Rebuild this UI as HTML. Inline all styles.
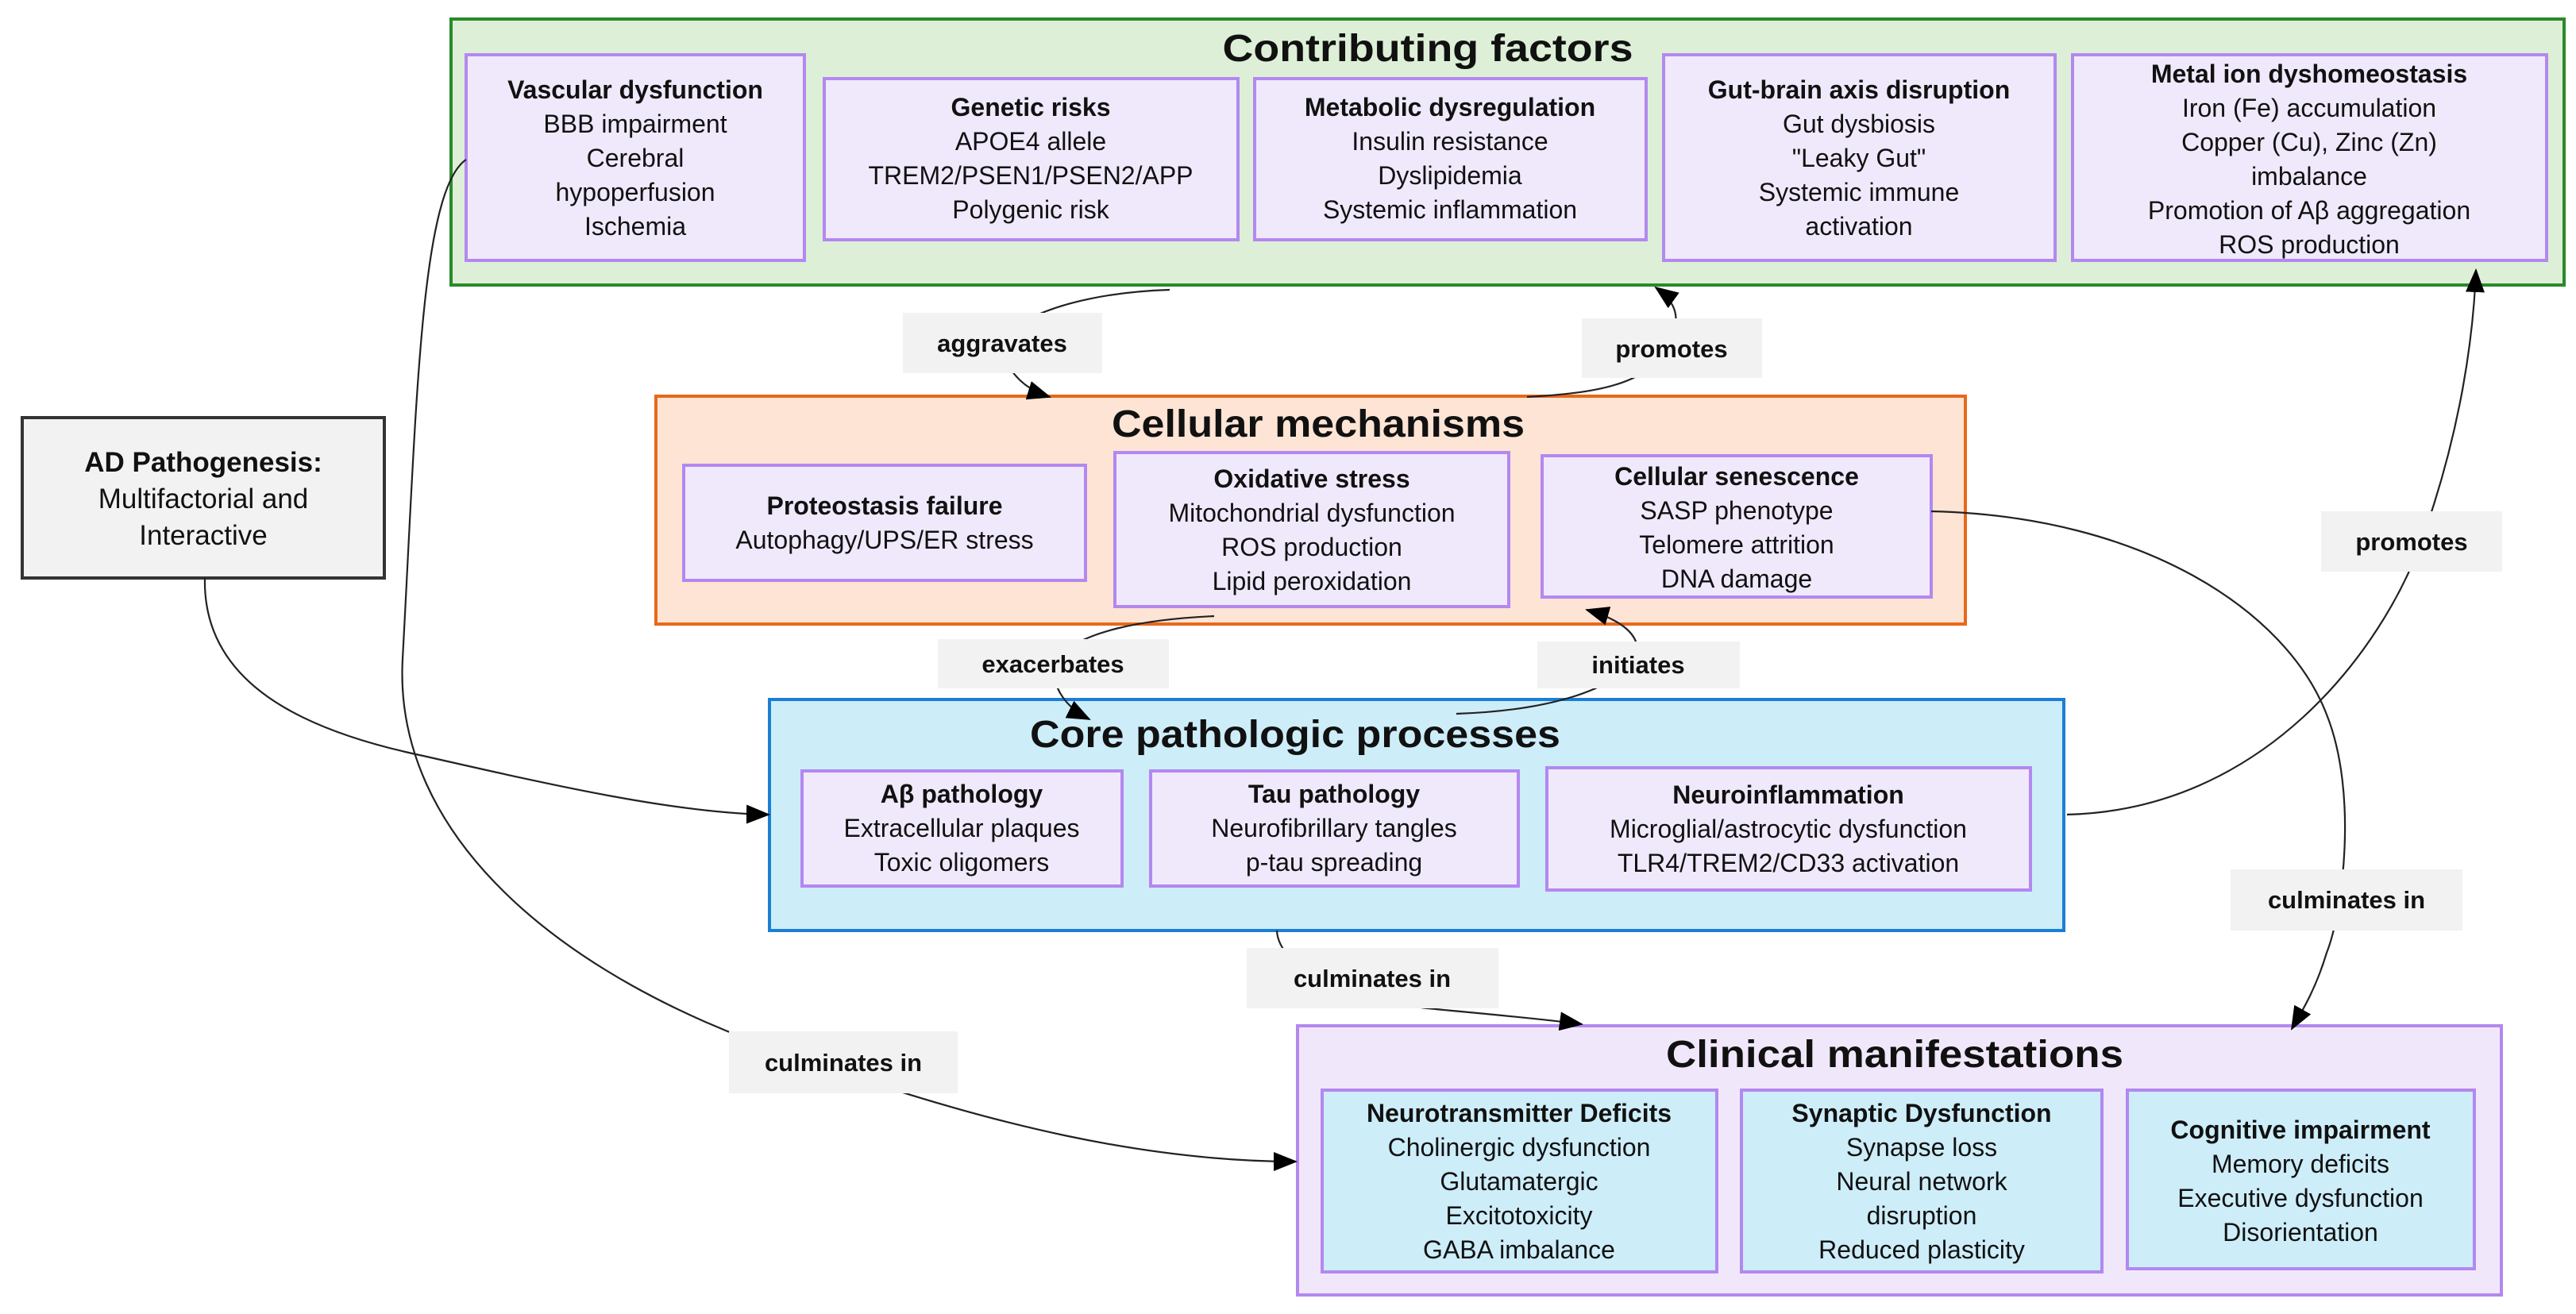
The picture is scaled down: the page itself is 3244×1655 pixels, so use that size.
<!DOCTYPE html>
<html><head><meta charset="utf-8"><style>
html,body{margin:0;padding:0;background:#fff;}
svg{display:block;font-family:"Liberation Sans",sans-serif;}
.b{font-weight:bold;}
text{font-size:32px;fill:#111;}
.t{font-size:48px;font-weight:bold;}
.l{font-size:31px;font-weight:bold;}
</style></head><body>
<svg width="3244" height="1655" viewBox="0 0 3244 1655" xmlns="http://www.w3.org/2000/svg">
<defs>
<marker id="a" markerUnits="userSpaceOnUse" markerWidth="30" markerHeight="24" refX="28" refY="12" orient="auto">
<path d="M0,0 L30,12 L0,24 z" fill="#000"/>
</marker>
</defs>
<rect width="3244" height="1655" fill="#fff"/>

<!-- Contributing factors -->
<rect x="568" y="24" width="2661" height="335" fill="#ddefd7" stroke="#2a8a2a" stroke-width="4"/>
<text class="t" x="1798" y="77" text-anchor="middle" textLength="517" lengthAdjust="spacingAndGlyphs">Contributing factors</text>
<g fill="#efe9fb" stroke="#b388f0" stroke-width="4">
<rect x="587" y="69" width="426" height="259"/>
<rect x="1038" y="99" width="521" height="203"/>
<rect x="1580" y="99" width="493" height="203"/>
<rect x="2095" y="69" width="493" height="259"/>
<rect x="2610" y="69" width="597" height="259"/>
</g>
<g text-anchor="middle">
<text x="800" y="124" class="b">Vascular dysfunction</text>
<text x="800" y="167">BBB impairment</text>
<text x="800" y="210">Cerebral</text>
<text x="800" y="253">hypoperfusion</text>
<text x="800" y="296">Ischemia</text>

<text x="1298" y="146" class="b">Genetic risks</text>
<text x="1298" y="189">APOE4 allele</text>
<text x="1298" y="232">TREM2/PSEN1/PSEN2/APP</text>
<text x="1298" y="275">Polygenic risk</text>

<text x="1826" y="146" class="b">Metabolic dysregulation</text>
<text x="1826" y="189">Insulin resistance</text>
<text x="1826" y="232">Dyslipidemia</text>
<text x="1826" y="275">Systemic inflammation</text>

<text x="2341" y="124" class="b">Gut-brain axis disruption</text>
<text x="2341" y="167">Gut dysbiosis</text>
<text x="2341" y="210">"Leaky Gut"</text>
<text x="2341" y="253">Systemic immune</text>
<text x="2341" y="296">activation</text>

<text x="2908" y="104" class="b">Metal ion dyshomeostasis</text>
<text x="2908" y="147">Iron (Fe) accumulation</text>
<text x="2908" y="190">Copper (Cu), Zinc (Zn)</text>
<text x="2908" y="233">imbalance</text>
<text x="2908" y="276">Promotion of Aβ aggregation</text>
<text x="2908" y="319">ROS production</text>
</g>

<!-- Cellular mechanisms -->
<rect x="826" y="499" width="1649" height="287" fill="#fde4d4" stroke="#e8681a" stroke-width="4"/>
<text class="t" x="1660" y="550" text-anchor="middle" textLength="520" lengthAdjust="spacingAndGlyphs">Cellular mechanisms</text>
<g fill="#efe9fb" stroke="#b388f0" stroke-width="4">
<rect x="861" y="586" width="506" height="145"/>
<rect x="1404" y="570" width="496" height="194"/>
<rect x="1942" y="574" width="490" height="178"/>
</g>
<g text-anchor="middle">
<text x="1114" y="648" class="b">Proteostasis failure</text>
<text x="1114" y="691">Autophagy/UPS/ER stress</text>

<text x="1652" y="614" class="b">Oxidative stress</text>
<text x="1652" y="657">Mitochondrial dysfunction</text>
<text x="1652" y="700">ROS production</text>
<text x="1652" y="743">Lipid peroxidation</text>

<text x="2187" y="611" class="b">Cellular senescence</text>
<text x="2187" y="654">SASP phenotype</text>
<text x="2187" y="697">Telomere attrition</text>
<text x="2187" y="740">DNA damage</text>
</g>

<!-- AD box -->
<rect x="28" y="526" width="456" height="202" fill="#f2f2f2" stroke="#333" stroke-width="4"/>
<g text-anchor="middle">
<text x="256" y="594" class="b" style="font-size:35px">AD Pathogenesis:</text>
<text x="256" y="640" style="font-size:35px">Multifactorial and</text>
<text x="256" y="686" style="font-size:35px">Interactive</text>
</g>

<!-- Core -->
<rect x="969" y="881" width="1630" height="291" fill="#cdedf9" stroke="#1a7fd4" stroke-width="4"/>
<text class="t" x="1631" y="941" text-anchor="middle" textLength="668" lengthAdjust="spacingAndGlyphs">Core pathologic processes</text>
<g fill="#efe9fb" stroke="#b388f0" stroke-width="4">
<rect x="1010" y="971" width="403" height="145"/>
<rect x="1449" y="971" width="463" height="145"/>
<rect x="1948" y="967" width="609" height="154"/>
</g>
<g text-anchor="middle">
<text x="1211" y="1011" class="b">Aβ pathology</text>
<text x="1211" y="1054">Extracellular plaques</text>
<text x="1211" y="1097">Toxic oligomers</text>
<text x="1680" y="1011" class="b">Tau pathology</text>
<text x="1680" y="1054">Neurofibrillary tangles</text>
<text x="1680" y="1097">p-tau spreading</text>
<text x="2252" y="1012" class="b">Neuroinflammation</text>
<text x="2252" y="1055">Microglial/astrocytic dysfunction</text>
<text x="2252" y="1098">TLR4/TREM2/CD33 activation</text>
</g>

<!-- Clinical -->
<rect x="1634" y="1292" width="1516" height="339" fill="#f0e8fa" stroke="#b388f0" stroke-width="4"/>
<text class="t" x="2386" y="1344" text-anchor="middle" textLength="576" lengthAdjust="spacingAndGlyphs">Clinical manifestations</text>
<g fill="#cdedf9" stroke="#b388f0" stroke-width="4">
<rect x="1665" y="1373" width="497" height="229"/>
<rect x="2193" y="1373" width="454" height="229"/>
<rect x="2679" y="1373" width="437" height="225"/>
</g>
<g text-anchor="middle">
<text x="1913" y="1413" class="b">Neurotransmitter Deficits</text>
<text x="1913" y="1456">Cholinergic dysfunction</text>
<text x="1913" y="1499">Glutamatergic</text>
<text x="1913" y="1542">Excitotoxicity</text>
<text x="1913" y="1585">GABA imbalance</text>
<text x="2420" y="1413" class="b">Synaptic Dysfunction</text>
<text x="2420" y="1456">Synapse loss</text>
<text x="2420" y="1499">Neural network</text>
<text x="2420" y="1542">disruption</text>
<text x="2420" y="1585">Reduced plasticity</text>
<text x="2897" y="1434" class="b">Cognitive impairment</text>
<text x="2897" y="1477">Memory deficits</text>
<text x="2897" y="1520">Executive dysfunction</text>
<text x="2897" y="1563">Disorientation</text>
</g>

<!-- connectors -->
<g fill="none" stroke="#222" stroke-width="2.2">
<path d="M1473,365 C1320,370 1250,420 1262,440 C1270,470 1290,490 1322,500" marker-end="url(#a)"/>
<path d="M1923,500 C2010,495 2070,485 2100,440 C2120,400 2110,380 2085,362" marker-end="url(#a)"/>
<path d="M2603,1026 C2850,1020 3000,820 3050,680 C3100,540 3115,420 3118,340" marker-end="url(#a)"/>
<path d="M2432,644 C2700,650 2880,770 2930,900 C2970,1000 2950,1150 2930,1200 C2915,1250 2895,1280 2886,1296" marker-end="url(#a)"/>
<path d="M1529,776 C1440,780 1360,795 1330,830 C1320,860 1340,890 1372,906" marker-end="url(#a)"/>
<path d="M1834,899 C1950,895 2030,870 2060,830 C2070,800 2040,780 1998,768" marker-end="url(#a)"/>
<path d="M1608,1172 C1610,1220 1700,1260 1798,1270 C1880,1278 1940,1283 1992,1290" marker-end="url(#a)"/>
<path d="M587,201 C530,240 525,500 507,830 C495,1050 700,1230 1000,1330 C1250,1420 1450,1463 1632,1463" marker-end="url(#a)"/>
<path d="M258,728 C255,860 380,920 533,952 C700,990 850,1024 968,1026" marker-end="url(#a)"/>
</g>

<!-- labels -->
<g fill="#f2f2f2">
<rect x="1137" y="394" width="251" height="76"/>
<rect x="1992" y="401" width="227" height="75"/>
<rect x="2923" y="644" width="228" height="76"/>
<rect x="1181" y="805" width="291" height="62"/>
<rect x="1936" y="808" width="255" height="59"/>
<rect x="1570" y="1194" width="317" height="76"/>
<rect x="918" y="1299" width="288" height="78"/>
<rect x="2809" y="1095" width="292" height="77"/>
</g>
<g text-anchor="middle">
<text class="l" x="1262" y="443">aggravates</text>
<text class="l" x="2105" y="450">promotes</text>
<text class="l" x="3037" y="693">promotes</text>
<text class="l" x="1326" y="847">exacerbates</text>
<text class="l" x="2063" y="848">initiates</text>
<text class="l" x="1728" y="1243">culminates in</text>
<text class="l" x="1062" y="1349">culminates in</text>
<text class="l" x="2955" y="1144">culminates in</text>
</g>
</svg>
</body></html>
